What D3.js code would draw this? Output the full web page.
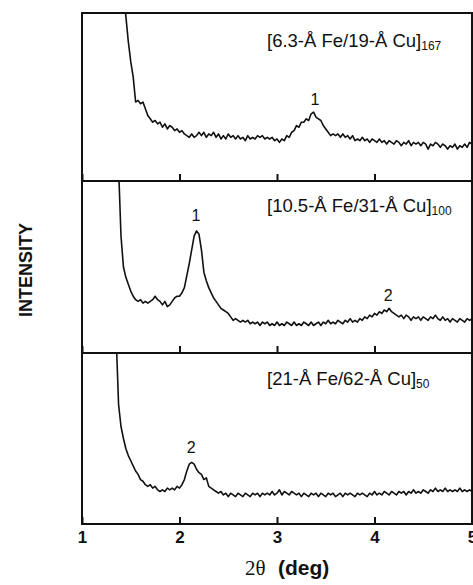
<!DOCTYPE html>
<html>
<head>
<meta charset="utf-8">
<script src="https://cdn.jsdelivr.net/npm/d3@7"></script>
<style>
  body { margin: 0; background: #fff; }
  svg { display: block; }
</style>
</head>
<body>
<div id="chart"></div>
<script>
// 2θ sampling step shared by all three scans
const step = 0.025;

// [6.3-Å Fe/19-Å Cu]167
const scan1Start = 1.425;
const scan1 = [115, 98, 83, 71, 62, 47, 48, 46, 47, 43, 39, 37, 35, 36, 34, 35, 32, 34, 31, 33,
  32, 30, 31, 29, 30, 28, 27, 26, 28, 26, 27, 29, 27, 29, 26, 28, 27, 29, 26, 28,
  25, 27, 25, 28, 26, 27, 25, 27, 25, 26, 24, 27, 25, 26, 25, 27, 26, 27, 25, 26,
  25, 26, 24, 25, 23, 25, 24, 27, 26, 29, 30, 33, 32, 35, 35, 37, 36, 40, 41, 38,
  37, 36, 33, 31, 29, 27, 28, 27, 28, 26, 28, 26, 27, 25, 27, 24, 25, 24, 26, 24,
  25, 23, 25, 24, 23, 25, 23, 24, 22, 24, 23, 22, 24, 23, 21, 23, 22, 24, 21, 23,
  22, 23, 21, 23, 22, 19, 22, 21, 23, 22, 20, 22, 21, 19, 21, 20, 22, 19, 21, 20,
  22, 20, 23, 22];

// [10.5-Å Fe/31-Å Cu]100
const scan2Start = 1.375;
const scan2 = [108, 68, 50, 44, 40, 36, 33, 31, 30, 31, 29, 30, 29, 30, 31, 33, 31, 30, 28, 30,
  27, 28, 30, 32, 33, 33, 35, 38, 45, 52, 60, 68, 71, 69, 60, 47, 42, 38, 35, 32,
  30, 28, 26, 25, 24, 23, 21, 19, 20, 19, 18, 19, 18, 19, 17, 18, 17, 18, 16, 18,
  17, 18, 16, 17, 16, 18, 16, 17, 16, 18, 17, 16, 18, 16, 17, 16, 18, 17, 16, 18,
  16, 17, 18, 16, 18, 17, 19, 17, 18, 17, 19, 18, 17, 19, 18, 20, 18, 19, 18, 20,
  19, 21, 20, 22, 21, 23, 22, 24, 23, 25, 24, 26, 24, 23, 22, 21, 22, 20, 22, 21,
  19, 21, 20, 21, 19, 21, 20, 19, 21, 20, 22, 20, 19, 21, 19, 20, 18, 20, 19, 18,
  20, 19, 18, 20, 19, 20];

// [21-Å Fe/62-Å Cu]50
const scan3Start = 1.35;
const scan3 = [110, 70, 57, 50, 44, 40, 37, 34, 31, 29, 26, 25, 23, 22, 23, 21, 22, 20, 19, 20,
  19, 21, 20, 21, 20, 22, 21, 23, 26, 31, 35, 36, 35, 32, 30, 29, 26, 27, 22, 21,
  20, 19, 18, 19, 17, 18, 16, 18, 17, 16, 18, 17, 16, 18, 17, 16, 18, 17, 18, 16,
  18, 17, 18, 17, 19, 17, 18, 20, 17, 19, 18, 17, 19, 18, 17, 18, 16, 18, 17, 16,
  18, 17, 18, 16, 18, 17, 16, 18, 17, 18, 16, 17, 18, 16, 18, 17, 18, 17, 16, 18,
  17, 18, 17, 16, 18, 17, 19, 17, 18, 17, 19, 18, 17, 19, 18, 17, 19, 18, 19, 17,
  19, 18, 20, 18, 19, 18, 20, 19, 18, 20, 19, 21, 19, 20, 19, 21, 19, 20, 19, 20,
  19, 21, 19, 20, 19, 20, 19];

const sampleLabels = [
  { main: "[6.3-Å Fe/19-Å Cu]", sub: "167" },
  { main: "[10.5-Å Fe/31-Å Cu]", sub: "100" },
  { main: "[21-Å Fe/62-Å Cu]", sub: "50" }
];
// Bragg peak orders marked on each scan: [2θ, intensity, label]
const peakMarks = [
  [[3.39, 45, "1"]],
  [[2.17, 77, "1"], [4.14, 30, "2"]],
  [[2.12, 41.5, "2"]]
];
const xTicks = [1, 2, 3, 4, 5];

const width = 473, height = 585;
const left = 82, right = 472;
const panelTops = [13, 181, 353];
const panelBottoms = [181, 353, 524];
const sans = "Liberation Sans, Arial, Helvetica, sans-serif";

const scans = [
  { start: scan1Start, values: scan1 },
  { start: scan2Start, values: scan2 },
  { start: scan3Start, values: scan3 }
];

const svg = d3.select("#chart").append("svg")
  .attr("width", width)
  .attr("height", height);

const x = d3.scaleLinear().domain([1, 5]).range([left, right]);

scans.forEach((scan, i) => {
  const y = d3.scaleLinear().domain([0, 100]).range([panelBottoms[i], panelTops[i]]);
  const pts = scan.values.map((v, k) => [scan.start + k * step, v]);

  svg.append("clipPath")
    .attr("id", "clip" + i)
    .append("rect")
    .attr("x", left)
    .attr("y", panelTops[i])
    .attr("width", right - left)
    .attr("height", panelBottoms[i] - panelTops[i]);

  svg.append("path")
    .datum(pts)
    .attr("clip-path", `url(#clip${i})`)
    .attr("fill", "none")
    .attr("stroke", "#111")
    .attr("stroke-width", 1.6)
    .attr("stroke-linejoin", "round")
    .attr("d", d3.line().x(d => x(d[0])).y(d => y(d[1])));

  // inward ticks along the bottom of each panel
  svg.append("g")
    .attr("transform", `translate(0, ${panelBottoms[i]})`)
    .call(d3.axisTop(x).tickValues(xTicks).tickSize(7).tickFormat(""))
    .call(g => g.select(".domain").remove())
    .call(g => g.selectAll("line").attr("stroke", "#111").attr("stroke-width", 2));

  // sample label
  const t = svg.append("text")
    .attr("x", 267)
    .attr("y", panelTops[i] + [34, 31, 32][i])
    .attr("font-family", sans)
    .attr("font-size", 18.5)
    .attr("fill", "#111");
  t.append("tspan").text(sampleLabels[i].main);
  t.append("tspan").attr("font-size", 12).attr("dy", 3).text(sampleLabels[i].sub);

  // peak order numbers
  peakMarks[i].forEach(([px, py, lab]) => {
    svg.append("text")
      .attr("x", x(px))
      .attr("y", y(py))
      .attr("text-anchor", "middle")
      .attr("font-family", sans)
      .attr("font-size", 16)
      .attr("fill", "#111")
      .text(lab);
  });
});

// frame and panel dividers
svg.append("rect")
  .attr("x", left)
  .attr("y", panelTops[0])
  .attr("width", right - left)
  .attr("height", panelBottoms[2] - panelTops[0])
  .attr("fill", "none")
  .attr("stroke", "#111")
  .attr("stroke-width", 2);
svg.selectAll(".divider")
  .data(panelBottoms.slice(0, 2))
  .enter().append("line")
  .attr("x1", left).attr("x2", right)
  .attr("y1", d => d).attr("y2", d => d)
  .attr("stroke", "#111")
  .attr("stroke-width", 2);

// bottom tick labels
svg.append("g")
  .attr("transform", `translate(0, ${panelBottoms[2]})`)
  .call(d3.axisBottom(x).tickValues(xTicks).tickSize(0).tickPadding(7).tickFormat(d3.format("d")))
  .call(g => g.select(".domain").remove())
  .call(g => g.selectAll("text")
    .attr("font-family", sans)
    .attr("font-weight", "bold")
    .attr("font-size", 17)
    .attr("fill", "#111"));

// axis titles
svg.append("text")
  .attr("x", 245)
  .attr("y", 575)
  .attr("font-family", "Liberation Serif, Times New Roman, serif")
  .attr("font-size", 21)
  .attr("fill", "#111")
  .text("2θ");
svg.append("text")
  .attr("x", 278)
  .attr("y", 575)
  .attr("font-family", sans)
  .attr("font-weight", "bold")
  .attr("font-size", 21)
  .attr("fill", "#111")
  .text("(deg)");

svg.append("text")
  .attr("transform", "translate(32, 270) rotate(-90)")
  .attr("text-anchor", "middle")
  .attr("font-family", sans)
  .attr("font-weight", "bold")
  .attr("font-size", 18)
  .attr("fill", "#111")
  .text("INTENSITY");
</script>
</body>
</html>
